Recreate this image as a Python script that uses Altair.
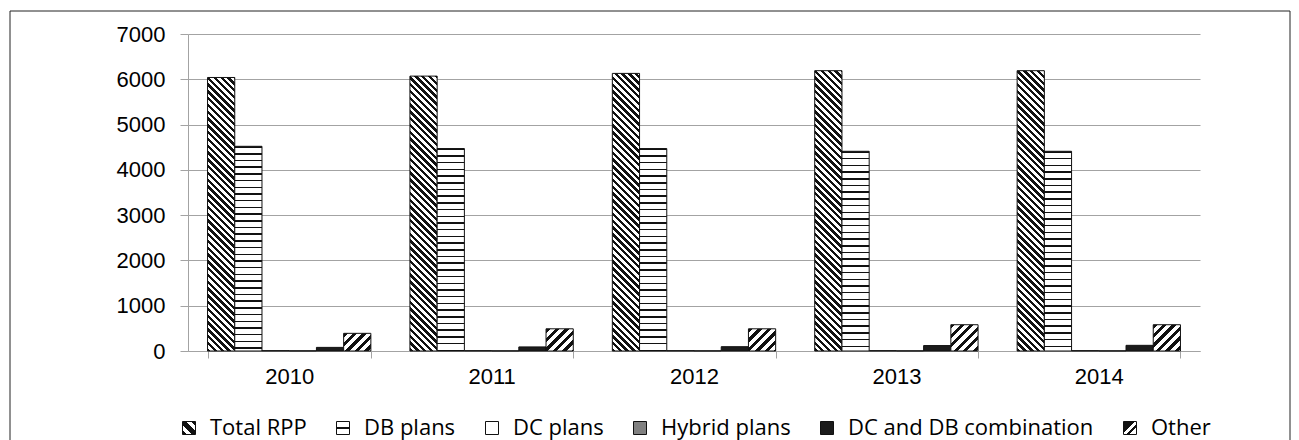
import json

import altair as alt
import pandas as pd

# Registered pension plans by type, 2010-2014
years = ["2010", "2011", "2012", "2013", "2014"]
plan_types = ["Total RPP", "DB plans", "DC plans", "Hybrid plans",
              "DC and DB combination", "Other"]
total_rpp = [6040, 6070, 6130, 6190, 6190]
db_plans = [4520, 4470, 4470, 4410, 4410]
dc_plans = [8, 8, 8, 8, 8]
hybrid_plans = [4, 4, 4, 4, 4]
dc_db_combination = [80, 90, 95, 120, 125]
other = [390, 490, 490, 580, 580]

series_values = [total_rpp, db_plans, dc_plans, hybrid_plans,
                 dc_db_combination, other]

# plot geometry (pixels)
PLOT_W, PLOT_H = 1012, 317
Y_MAX = 7000
BAND_PAD = 0.193
BAR_W = (PLOT_W / len(years)) * (1 - BAND_PAD) / len(plan_types)


def stripe_stops(length, period, dark, ink="#111111", paper="#ffffff"):
    """Hard-edged stops for stripes of a given period along a gradient."""
    stops = []
    pos = 0.0
    while pos < length:
        a = round(pos / length, 5)
        b = round(min(pos + dark, length) / length, 5)
        c = round(min(pos + period, length) / length, 5)
        stops += [{"offset": a, "color": ink}, {"offset": b, "color": ink},
                  {"offset": b, "color": paper}, {"offset": c, "color": paper}]
        pos += period
    return stops


def hatch_back(w, h, period, dark):
    # "\" lines: constant along x - y
    s = (w + h) / (w * w + h * h)
    return {"gradient": "linear", "x1": 0, "y1": 1, "x2": s * w,
            "y2": 1 - s * h, "stops": stripe_stops(w + h, period, dark)}


def hatch_fwd(w, h, period, dark):
    # "/" lines: constant along x + y
    s = (w + h) / (w * w + h * h)
    return {"gradient": "linear", "x1": 0, "y1": 0, "x2": s * w,
            "y2": s * h, "stops": stripe_stops(w + h, period, dark)}


def hatch_horiz(h, period, dark):
    return {"gradient": "linear", "x1": 0, "y1": 0, "x2": 0.000001,
            "y2": 1, "stops": stripe_stops(h, period, dark)}


def bar_fill(plan, value):
    h = max(value / Y_MAX * PLOT_H, 1.0)
    if plan == "Total RPP":
        return hatch_back(BAR_W, h, 6.8, 3.3)
    if plan == "DB plans":
        return hatch_horiz(h, 6.7, 1.5)
    if plan == "Other":
        return hatch_fwd(BAR_W, h, 9.5, 4.4)
    return {"DC plans": "#ffffff", "Hybrid plans": "#808080",
            "DC and DB combination": "#1b1b1b"}[plan]


rows = []
for plan, vals in zip(plan_types, series_values):
    for year, v in zip(years, vals):
        rows.append({"year": year, "plan": plan, "value": v,
                     "pattern": bar_fill(plan, v)})
df = pd.DataFrame(rows)

# small square swatches for the legend
legend_swatches = [
    {"expr": json.dumps({"gradient": "linear", "x1": 0, "y1": 1, "x2": 1, "y2": 0,
                         "stops": [{"offset": 0, "color": "#111"}, {"offset": 0.18, "color": "#111"},
                                   {"offset": 0.18, "color": "#fff"}, {"offset": 0.36, "color": "#fff"},
                                   {"offset": 0.36, "color": "#111"}, {"offset": 0.64, "color": "#111"},
                                   {"offset": 0.64, "color": "#fff"}, {"offset": 0.82, "color": "#fff"},
                                   {"offset": 0.82, "color": "#111"}, {"offset": 1, "color": "#111"}]})},
    {"expr": json.dumps({"gradient": "linear", "x1": 0, "y1": 0, "x2": 0.000001, "y2": 1,
                         "stops": [{"offset": 0, "color": "#fff"}, {"offset": 0.44, "color": "#fff"},
                                   {"offset": 0.44, "color": "#111"}, {"offset": 0.58, "color": "#111"},
                                   {"offset": 0.58, "color": "#fff"}, {"offset": 1, "color": "#fff"}]})},
    "#ffffff",
    "#808080",
    "#1b1b1b",
    {"expr": json.dumps({"gradient": "linear", "x1": 0, "y1": 0, "x2": 1, "y2": 1,
                         "stops": [{"offset": 0, "color": "#111"}, {"offset": 0.45, "color": "#111"},
                                   {"offset": 0.45, "color": "#fff"}, {"offset": 0.6, "color": "#fff"},
                                   {"offset": 0.6, "color": "#111"}, {"offset": 0.72, "color": "#111"},
                                   {"offset": 0.72, "color": "#fff"}, {"offset": 1, "color": "#fff"}]})},
]

x_enc = alt.X("year:N", sort=years,
              scale=alt.Scale(paddingInner=BAND_PAD, paddingOuter=BAND_PAD / 2),
              axis=alt.Axis(title=None, labelAngle=0, tickBand="extent", tickSize=7,
                            labelPadding=8, grid=False))
xoff_enc = alt.XOffset("plan:N", sort=plan_types,
                       scale=alt.Scale(domain=plan_types, paddingInner=0, paddingOuter=0))
y_enc = alt.Y("value:Q", stack=None,
              scale=alt.Scale(domain=[0, Y_MAX], nice=False),
              axis=alt.Axis(title=None, values=list(range(0, Y_MAX + 1, 1000)),
                            format="d", tickSize=8, labelPadding=15, grid=True))

base = alt.Chart(df)

# hatched / solid bars, fill taken per bar
bars = base.mark_bar(stroke="#111111", strokeWidth=1).encode(
    x=x_enc, xOffset=xoff_enc, y=y_enc,
    fill=alt.Fill("pattern:N", scale=None),
)

# transparent copy of the bars that carries the legend
legend_bars = base.mark_bar(opacity=0, stroke="#111111").encode(
    x=x_enc, xOffset=xoff_enc, y=y_enc,
    fill=alt.Fill("plan:N", sort=plan_types,
                  scale=alt.Scale(domain=plan_types, range=legend_swatches),
                  legend=alt.Legend(title=None, orient="none", direction="horizontal",
                                    legendX=-10, legendY=383, symbolType="square",
                                    symbolSize=169, symbolStrokeColor="#111111",
                                    symbolStrokeWidth=1, symbolOpacity=1,
                                    labelFont="Open Sans", labelFontSize=22,
                                    labelColor="#000000", labelOffset=10, labelLimit=0,
                                    columnPadding=25, padding=0)),
)

# outer chart frame
frame = alt.Chart(alt.Data(values=[{}])).mark_rect(
    fill="transparent", stroke="#222222", strokeWidth=1
).encode(
    x=alt.value(-178), x2=alt.value(1102), y=alt.value(-23), y2=alt.value(412)
)

chart = alt.layer(frame, legend_bars, bars).resolve_scale(
    fill="independent"
).properties(
    width=PLOT_W, height=PLOT_H,
    autosize=alt.AutoSizeParams(type="none"),
    padding={"left": 188, "top": 34, "right": 99, "bottom": 89},
    background="white",
).configure_axis(
    gridColor="#a3a3a3", domainColor="#a3a3a3", tickColor="#a3a3a3",
    gridWidth=1, domainWidth=1, tickWidth=1,
    labelColor="#000000", labelFont="Liberation Sans", labelFontSize=22,
).configure_view(stroke=None)

chart.save("out.html", embed_options={"renderer": "svg", "actions": False})
